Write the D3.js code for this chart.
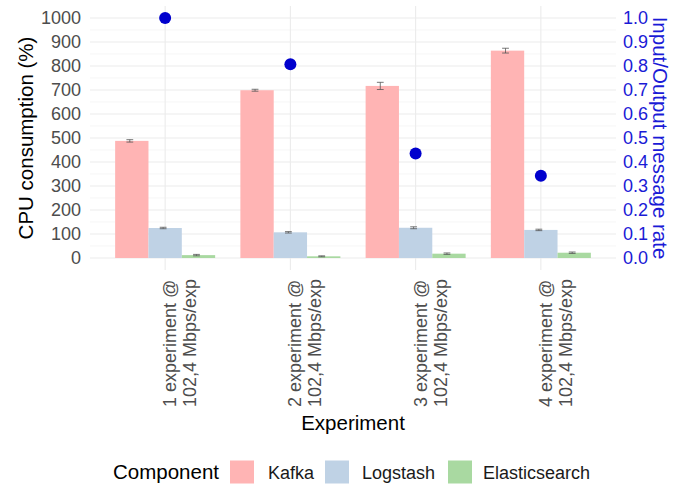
<!DOCTYPE html>
<html>
<head>
<meta charset="utf-8">
<script src="https://cdn.jsdelivr.net/npm/d3@7"></script>
<style>
  body { margin: 0; background: #fff; }
  text { font-family: "Liberation Sans", Arial, sans-serif; }
</style>
</head>
<body>
<div id="chart"></div>
<script>
// experiments on the x axis (two lines each)
var experiments = [
  ["1 experiment @", "102,4 Mbps/exp"],
  ["2 experiment @", "102,4 Mbps/exp"],
  ["3 experiment @", "102,4 Mbps/exp"],
  ["4 experiment @", "102,4 Mbps/exp"]
];
var components = ["Kafka", "Logstash", "Elasticsearch"];

// CPU consumption (%) means and error half-widths
var kafka = [488, 699, 717, 864];
var kafkaErr = [5, 4, 15, 10];
var logstash = [125, 107, 126, 117];
var logstashErr = [3, 3, 4, 3];
var elastic = [12, 7, 18, 22];
var elasticErr = [3, 2, 3, 3];

// input/output message rate (right axis)
var rate = [1.0, 0.807, 0.435, 0.343];

var leftTicks = [0, 100, 200, 300, 400, 500, 600, 700, 800, 900, 1000];
var rightTicks = [0, 0.1, 0.2, 0.3, 0.4, 0.5, 0.6, 0.7, 0.8, 0.9, 1.0];

var colors = {Kafka: "#ffb4b4", Logstash: "#bfd2e5", Elasticsearch: "#a9d9a1"};

var width = 683, height = 487;
var panel = {left: 90, right: 616, top: 6, bottom: 270};

var svg = d3.select("#chart").append("svg")
  .attr("width", width)
  .attr("height", height);

var ids = experiments.map(function(d, i) { return i; });

var x = d3.scalePoint()
  .domain(ids)
  .range([panel.left, panel.right])
  .padding(0.6);

var xInner = d3.scaleBand()
  .domain(components)
  .range([-50, 50]);

var y = d3.scaleLinear()
  .domain([-50, 1050])
  .range([panel.bottom, panel.top]);

var y2 = d3.scaleLinear()
  .domain([-0.05, 1.05])
  .range([panel.bottom, panel.top]);

// grid
var grid = svg.append("g");
d3.range(50, 1000, 100).forEach(function(v) {
  grid.append("line")
    .attr("x1", panel.left).attr("x2", panel.right)
    .attr("y1", y(v)).attr("y2", y(v))
    .attr("stroke", "#f0f0f0").attr("stroke-width", 0.6);
});
leftTicks.forEach(function(v) {
  grid.append("line")
    .attr("x1", panel.left).attr("x2", panel.right)
    .attr("y1", y(v)).attr("y2", y(v))
    .attr("stroke", "#ebebeb").attr("stroke-width", 1.1);
});
ids.forEach(function(i) {
  grid.append("line")
    .attr("x1", x(i)).attr("x2", x(i))
    .attr("y1", panel.top).attr("y2", panel.bottom)
    .attr("stroke", "#ebebeb").attr("stroke-width", 1.1);
});

// bars
var rows = [];
ids.forEach(function(i) {
  rows.push({i: i, key: "Kafka", v: kafka[i], e: kafkaErr[i]});
  rows.push({i: i, key: "Logstash", v: logstash[i], e: logstashErr[i]});
  rows.push({i: i, key: "Elasticsearch", v: elastic[i], e: elasticErr[i]});
});

svg.append("g").selectAll("rect")
  .data(rows)
  .join("rect")
    .attr("x", function(d) { return x(d.i) + xInner(d.key); })
    .attr("width", xInner.bandwidth())
    .attr("y", function(d) { return y(d.v); })
    .attr("height", function(d) { return y(0) - y(d.v); })
    .attr("fill", function(d) { return colors[d.key]; });

// error bars
var eb = svg.append("g").attr("stroke", "#555").attr("stroke-width", 0.8).attr("fill", "none");
rows.forEach(function(d) {
  var cx = x(d.i) + xInner(d.key) + xInner.bandwidth() / 2 - 2,
    hw = 3.4;
  eb.append("path")
    .attr("d", "M" + (cx - hw) + "," + y(d.v + d.e) + "H" + (cx + hw) +
      "M" + cx + "," + y(d.v + d.e) + "V" + y(d.v - d.e) +
      "M" + (cx - hw) + "," + y(d.v - d.e) + "H" + (cx + hw));
});

// rate points
svg.append("g").selectAll("circle")
  .data(rate)
  .join("circle")
    .attr("cx", function(d, i) { return x(i); })
    .attr("cy", function(d) { return y2(d); })
    .attr("r", 6)
    .attr("fill", "#0000cd");

// left axis
var yAxis = d3.axisLeft(y).tickValues(leftTicks).tickSize(0).tickPadding(9)
  .tickFormat(d3.format("d"));
var gl = svg.append("g").attr("transform", "translate(" + panel.left + ",0)").call(yAxis);
gl.select(".domain").remove();
gl.selectAll("text").attr("fill", "#4d4d4d").style("font-size", "18px");

// right axis
var y2Axis = d3.axisRight(y2).tickValues(rightTicks).tickSize(0).tickPadding(7)
  .tickFormat(d3.format(".1f"));
var gr = svg.append("g").attr("transform", "translate(" + panel.right + ",0)").call(y2Axis);
gr.select(".domain").remove();
gr.selectAll("text").attr("fill", "#1a1ad6").style("font-size", "18px");

// x tick labels (rotated, two lines)
ids.forEach(function(i) {
  var t = svg.append("text")
    .attr("transform", "translate(" + (x(i) + 11) + ",407) rotate(-90)")
    .attr("fill", "#4d4d4d")
    .style("font-size", "18px");
  experiments[i].forEach(function(line, k) {
    t.append("tspan").attr("x", 0).attr("y", k * 20).text(line);
  });
});

// axis titles
svg.append("text")
  .attr("x", (panel.left + panel.right) / 2).attr("y", 430)
  .attr("text-anchor", "middle").style("font-size", "20.5px")
  .text("Experiment");

svg.append("text")
  .attr("transform", "translate(33," + ((panel.top + panel.bottom) / 2) + ") rotate(-90)")
  .attr("text-anchor", "middle").style("font-size", "20.5px")
  .text("CPU consumption (%)");

svg.append("text")
  .attr("transform", "translate(653," + ((panel.top + panel.bottom) / 2) + ") rotate(90)")
  .attr("text-anchor", "middle").attr("fill", "#1a1ad6").style("font-size", "20.5px")
  .text("Input/Output message rate");

// legend
var lg = svg.append("g").attr("transform", "translate(0,472)");
lg.append("text").attr("x", 113).attr("y", 7).style("font-size", "20.5px").text("Component");
var keyX = [230, 325, 448];
var labelX = [268, 362, 483];
components.forEach(function(c, k) {
  lg.append("rect")
    .attr("x", keyX[k]).attr("y", -11.5)
    .attr("width", 24).attr("height", 23)
    .attr("fill", colors[c]);
  lg.append("text")
    .attr("x", labelX[k]).attr("y", 6.5)
    .attr("fill", "#1a1a1a")
    .style("font-size", "18px")
    .text(c);
});
</script>
</body>
</html>
